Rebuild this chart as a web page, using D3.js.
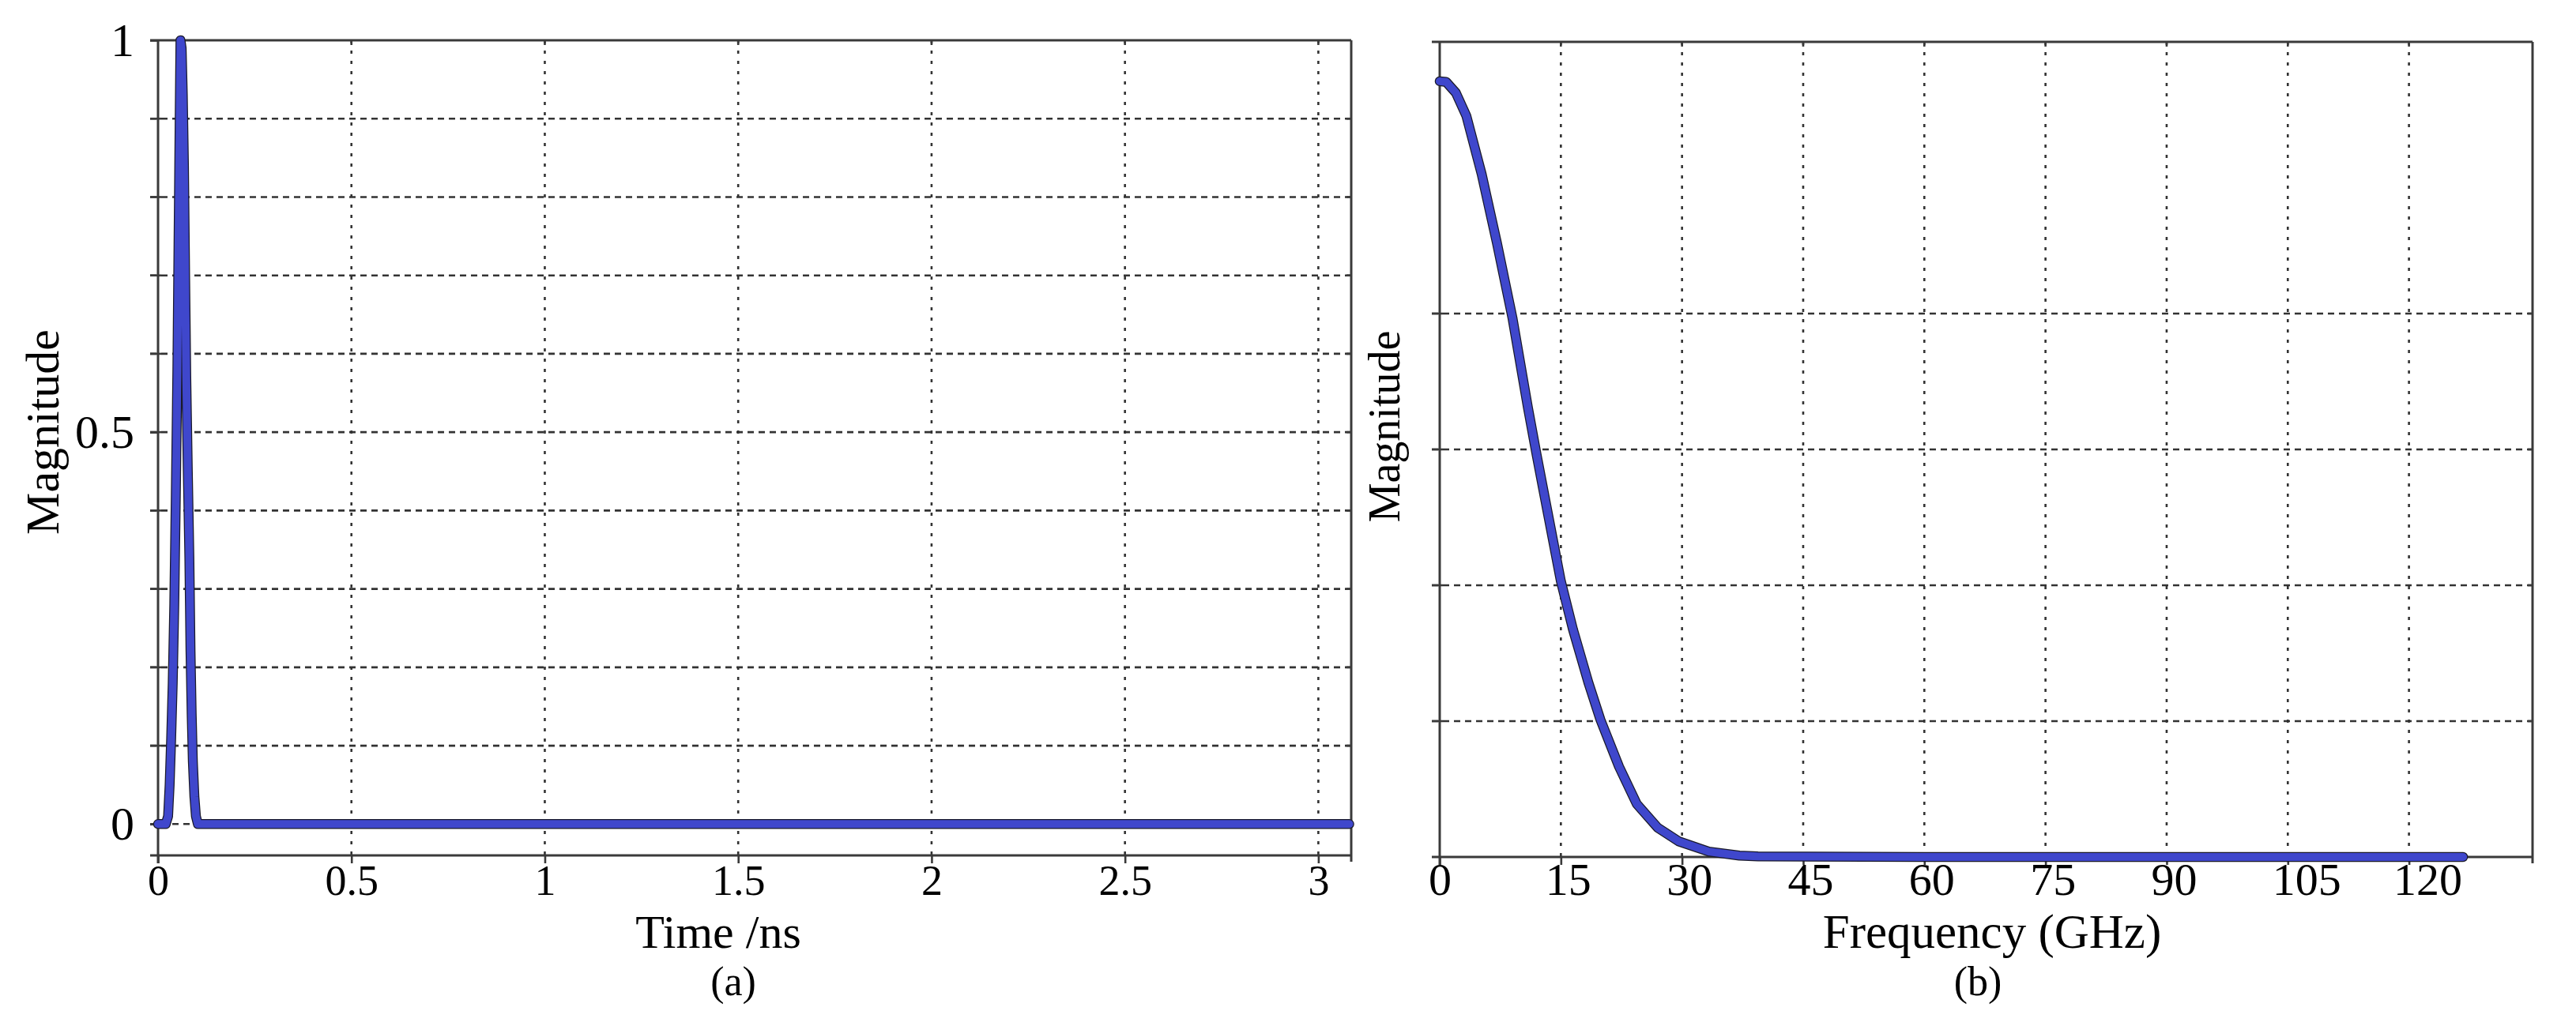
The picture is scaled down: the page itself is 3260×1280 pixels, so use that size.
<!DOCTYPE html>
<html><head><meta charset="utf-8">
<script src="https://cdn.jsdelivr.net/npm/d3@7"></script>
<style>
body{margin:0;background:#fff}
svg{display:block;background:#fff}
text{font-family:"Liberation Serif","Times New Roman",serif;fill:#000}
</style>
</head><body>
<svg id="chart" width="3260" height="1280"></svg>
<script>
// ---- Data (a): time-domain pulse ----
const timeNs  = [0, 0.02, 0.026, 0.030, 0.034, 0.038, 0.042, 0.046, 0.050, 0.053, 0.056, 0.058, 0.061, 0.064, 0.067, 0.070, 0.073, 0.077, 0.081, 0.084, 0.087, 0.090, 0.094, 0.098, 0.103, 0.5, 1, 1.5, 2, 2.5, 3, 3.08];
const timeMag = [0, 0,    0.01,  0.05,  0.11,  0.18,  0.28,  0.42,  0.58,  0.74,  0.90,  1.0,   0.99,  0.93,  0.84,  0.70,  0.57,  0.45,  0.34,  0.22,  0.14,  0.08,  0.035, 0.01,  0,     0,   0, 0,   0, 0,   0, 0];
const timeTicks = [0, 0.5, 1, 1.5, 2, 2.5, 3];
const timeTickLabels = ["0", "0.5", "1", "1.5", "2", "2.5", "3"];
const magTicksA = [0, 0.5, 1];
const magTickLabelsA = ["0", "0.5", "1"];
const magGridA = [0, 0.1, 0.2, 0.3, 0.4, 0.5, 0.6, 0.7, 0.8, 0.9];

// ---- Data (b): spectrum ----
const freqGHz = [0, 0.8, 2, 3.3, 5.2, 7.1, 9.0, 10.9, 12.0, 13.5, 15.0, 16.5, 18.4, 19.9, 22.2, 24.4, 27.0, 29.6, 33.3, 37.1, 39.4, 60, 90, 120, 126.7];
const freqMag = [1.142, 1.141, 1.125, 1.091, 1.005, 0.903, 0.794, 0.663, 0.592, 0.499, 0.406, 0.335, 0.257, 0.202, 0.133, 0.078, 0.043, 0.023, 0.008, 0.002, 0.001, 0, 0, 0, 0];
const freqTicks = [0, 15, 30, 45, 60, 75, 90, 105, 120];
const freqTickLabels = ["0", "15", "30", "45", "60", "75", "90", "105", "120"];
const magGridB = [0.2, 0.4, 0.6, 0.8];

const svg = d3.select("#chart");
const AX = "#3a3a3a", GRID = "#333", BLUE = "#3f47cc";

function panel(o) {
  const g = svg.append("g");
  const [x0, x1] = o.x.range(), [yb, yt] = o.y.range();
  // grid
  g.selectAll(".hg").data(o.hGrid).join("line")
    .attr("x1", x0 - 10).attr("x2", x1).attr("y1", d => o.y(d)).attr("y2", d => o.y(d))
    .attr("stroke", GRID).attr("stroke-width", 2.6).attr("stroke-dasharray", "8,6");
  g.selectAll(".hgs").data(o.hGrid).join("line")
    .attr("x1", x0 - 10).attr("x2", x0 + 4).attr("y1", d => o.y(d)).attr("y2", d => o.y(d))
    .attr("stroke", AX).attr("stroke-width", 2.6);
  g.selectAll(".hgr").data(o.hGrid).join("line")
    .attr("x1", x1 - 6).attr("x2", x1).attr("y1", d => o.y(d)).attr("y2", d => o.y(d))
    .attr("stroke", AX).attr("stroke-width", 2.6);
  g.selectAll(".vg").data(o.vGrid).join("line")
    .attr("x1", d => o.x(d)).attr("x2", d => o.x(d)).attr("y1", yt).attr("y2", yb)
    .attr("stroke", GRID).attr("stroke-width", 2.6).attr("stroke-dasharray", "4,9");
  g.selectAll(".vgt").data(o.vGrid).join("line")
    .attr("x1", d => o.x(d)).attr("x2", d => o.x(d)).attr("y1", yt).attr("y2", yt + 6)
    .attr("stroke", AX).attr("stroke-width", 2.6);

  // x axis
  const xa = d3.axisBottom(o.x).tickValues(o.xTicks).tickSize(10).tickPadding(o.xPad)
    .tickFormat((d, i) => o.xLabels[i]);
  const xg = g.append("g").attr("transform", `translate(0,${yb})`).call(xa);
  xg.select(".domain").remove();
  xg.selectAll(".tick line").attr("stroke", AX).attr("stroke-width", 2.6);
  xg.selectAll(".tick text").attr("font-size", o.xFont).attr("fill", "#000")
    .attr("font-family", '"Liberation Serif","Times New Roman",serif');
  if (o.xStart) {
    xg.selectAll(".tick text").each(function(d, i) {
      const t = d3.select(this);
      if (o.xLabels[i].length > 1) t.attr("text-anchor", "start").attr("x", -20);
    });
  }
  // y axis
  if (o.yTicks) {
    const ya = d3.axisLeft(o.y).tickValues(o.yTicks).tickSize(10).tickPadding(20)
      .tickFormat((d, i) => o.yLabels[i]);
    const yg = g.append("g").attr("transform", `translate(${x0},0)`).call(ya);
    yg.select(".domain").remove();
    yg.selectAll(".tick line").attr("stroke", AX).attr("stroke-width", 2.6);
    yg.selectAll(".tick text").attr("font-size", o.yFont).attr("fill", "#000")
      .attr("font-family", '"Liberation Serif","Times New Roman",serif');
  }
  // frame
  const fr = [
    [x0 - 10, yb, x1, yb], [x0 - 10, yt, x1, yt],
    [x0, yt, x0, yb + 10], [x1, yt, x1, yb + 8]
  ];
  g.selectAll(".fr").data(fr).join("line")
    .attr("x1", d => d[0]).attr("y1", d => d[1]).attr("x2", d => d[2]).attr("y2", d => d[3])
    .attr("stroke", AX).attr("stroke-width", 3);

  // data line
  const line = d3.line().x(d => o.x(d[0])).y(d => o.y(d[1]));
  const pts = o.xs.map((v, i) => [v, o.ys[i]]);
  g.append("path").attr("d", line(pts)).attr("fill", "none").attr("stroke", "#1a1a2a")
    .attr("stroke-width", o.lw + 2.5).attr("stroke-linejoin", "round").attr("stroke-linecap", "round");
  g.append("path").attr("d", line(pts)).attr("fill", "none").attr("stroke", BLUE)
    .attr("stroke-width", o.lw).attr("stroke-linejoin", "round").attr("stroke-linecap", "round");
  return g;
}

// Panel (a)
const xA = d3.scaleLinear().domain([0, 3.085]).range([200, 1710]);
const yA = d3.scaleLinear().domain([-0.04, 1]).range([1083, 51]);
panel({x: xA, y: yA, hGrid: magGridA, vGrid: timeTicks.slice(1), xTicks: timeTicks, xLabels: timeTickLabels,
  xPad: 2, xFont: 54, yTicks: magTicksA, yLabels: magTickLabelsA, yFont: 60, xs: timeNs, ys: timeMag, lw: 10});

// Panel (b)
const xB = d3.scaleLinear().domain([0, 135.3]).range([1822, 3205]);
const yB = d3.scaleLinear().domain([0, 1.2]).range([1085, 53]);
panel({x: xB, y: yB, hGrid: magGridB, vGrid: freqTicks.slice(1), xTicks: freqTicks, xLabels: freqTickLabels,
  xPad: -3, xFont: 58, xStart: true, xs: freqGHz, ys: freqMag, lw: 10});

// Titles
const T = (x, y, s, fs, rot) => {
  const t = svg.append("text").attr("font-size", fs).attr("text-anchor", "middle").text(s);
  if (rot) t.attr("transform", `translate(${x},${y}) rotate(-90)`);
  else t.attr("x", x).attr("y", y);
};
T(909, 1200, "Time /ns", 60);
T(928, 1260, "(a)", 52);
T(74, 547, "Magnitude", 60, true);
T(2521, 1200, "Frequency (GHz)", 61);
T(2503, 1260, "(b)", 52);
T(1771, 540, "Magnitude", 56, true);
</script>
</body></html>
